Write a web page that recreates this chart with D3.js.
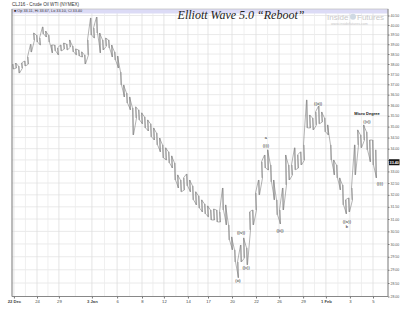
<!doctype html>
<html lang=en>
<head>
  <meta charset="utf-8">
  <title>CLJ16 Elliott Wave</title>
  <style>
body {
  margin: 0;
  background: #fff;
  overflow: hidden;
}
svg {
  display: block;
  font-family: "Liberation Sans", Arial, sans-serif;
}
  </style>
</head>
<body>
<div id=chart></div>

<script src="https://cdn.jsdelivr.net/npm/d3@7"></script>
<script>

// bar highs / lows (one bar per slot)
var highs = [38.00,38.05,37.90,38.05,38.15,38.35,39.00,39.58,39.47,39.32,
             39.90,39.68,39.47,38.96,38.96,38.81,38.96,39.06,39.01,39.22,
             38.91,38.76,38.71,38.61,38.46,39.22,40.37,39.84,40.42,39.58,
             39.22,39.32,39.22,38.96,38.61,38.40,37.60,36.97,36.58,36.39,
             35.87,35.92,35.78,35.64,35.45,35.31,35.13,34.94,34.71,34.48,
             34.17,34.04,33.86,33.68,33.37,32.85,32.63,32.72,32.89,32.63,
             32.38,32.13,31.96,31.79,31.62,31.54,31.37,31.41,31.37,31.29,
             32.29,31.58,30.76,30.28,29.77,29.30,29.96,30.24,29.85,31.29,
             31.37,32.08,32.63,33.42,33.72,33.95,33.28,32.63,31.79,31.37,
             32.29,33.72,33.28,33.28,34.04,33.72,33.86,34.17,36.25,35.54,
             35.40,35.68,35.96,35.68,35.40,35.08,34.17,33.50,33.28,32.72,
             32.42,31.79,31.87,32.29,34.17,34.85,34.62,35.08,34.76,34.39,
             34.39,33.95];
var lows  = [37.75,37.80,37.55,37.80,37.90,38.00,38.60,39.22,39.11,38.96,
             39.53,39.37,39.11,38.56,38.66,38.46,38.66,38.76,38.71,38.86,
             38.61,38.46,38.40,38.35,38.00,38.46,39.47,39.32,39.58,38.56,
             38.71,38.91,38.81,38.35,38.20,37.80,36.97,36.39,36.10,35.78,
             34.62,35.40,35.31,35.13,34.94,34.80,34.53,34.39,34.17,33.86,
             33.59,33.50,33.37,33.15,32.63,32.29,32.13,32.21,32.38,32.13,
             31.79,31.58,31.45,31.29,31.21,31.09,30.96,30.96,30.88,30.88,
             31.37,30.76,30.16,29.77,29.30,28.70,29.30,29.46,29.19,30.56,
             30.76,31.37,32.00,32.72,33.15,33.06,32.55,31.79,31.17,30.80,
             31.37,32.42,32.63,32.85,33.07,33.15,33.28,33.50,34.94,34.94,
             34.85,35.08,35.13,35.22,34.76,34.62,33.50,32.85,32.72,32.21,
             31.58,31.21,31.29,31.79,32.85,34.17,34.04,34.39,33.95,33.42,
             33.28,32.72];
var lastPrice = 33.40;

var priceTicks = [28.0,28.5,29.0,29.5,30.0,30.5,31.0,31.5,32.0,32.5,33.0,33.5,
                  34.0,34.5,35.0,35.5,36.0,36.5,37.0,37.5,38.0,38.5,39.0,39.5,40.0,40.5];

var dateLabels = ["22 Dec","24","29","3 Jan","6","8","12","14","17","20","22","26","29","1 Feb","3","5"];
var dateIdx    = [0.3, 8, 15.3, 26.3, 34.7, 43, 50.3, 58.3, 65, 73, 81, 88.7, 96.7, 104.3, 112.3, 120];
var boldLabels = ["22 Dec","3 Jan","1 Feb"];

// elliott wave annotations: bar slot, price
var waveText  = ["(iii)","((v))","((iv))","a","((i))","((ii))","((iii))","((iv))","b","Micro Degree","((v))","((i))"];
var waveIdx   = [75, 77.7, 76, 84.3, 84.3, 89, 101.7, 111.3, 111.3, 118, 118, 122.3];
var wavePrice = [28.6, 29.1, 30.45, 34.5, 34.15, 30.55, 36.1, 30.9, 30.68, 35.6, 35.25, 32.5];

var W = 400, H = 313;
// plot box: left, right, top, bottom
var L = 12, R = 388, T = 9, B = 296.5;

var svg = d3.select("#chart").append("svg")
  .attr("width", W)
  .attr("height", H);

var x = d3.scaleLinear()
  .domain([0, highs.length - 1])
  .range([13, 376]);

var y = d3.scaleLog()
  .domain([28, 40.5])
  .range([B, 15.5]);

// grid
var grid = svg.append("g");
grid.selectAll("line.h")
  .data(priceTicks)
  .enter().append("line")
  .attr("x1", L).attr("x2", R)
  .attr("y1", d => y(d)).attr("y2", d => y(d))
  .attr("stroke", "#e4e4e4")
  .attr("stroke-width", 0.8);

var minor = dateIdx.slice(1).map((d, i) => (d + dateIdx[i]) / 2);
grid.selectAll("line.vm")
  .data(minor)
  .enter().append("line")
  .attr("x1", d => x(d)).attr("x2", d => x(d))
  .attr("y1", T + 4).attr("y2", B)
  .attr("stroke", "#ececec")
  .attr("stroke-width", 0.8);
grid.selectAll("line.v")
  .data(dateIdx)
  .enter().append("line")
  .attr("x1", d => x(d)).attr("x2", d => x(d))
  .attr("y1", T + 4).attr("y2", B)
  .attr("stroke", "#dedede")
  .attr("stroke-width", 0.8);

// header strip
svg.append("rect")
  .attr("x", L).attr("y", T)
  .attr("width", R - L).attr("height", 4.5)
  .attr("fill", "#dcdbf6");
svg.append("text")
  .attr("x", 14).attr("y", 12.4)
  .attr("font-size", 3.8)
  .attr("fill", "#333")
  .text("\u25A0 Op 33.11, Hi 33.67, Lo 33.10, Cl 33.40");

svg.append("text")
  .attr("x", L).attr("y", 5.5)
  .attr("font-size", 4.6)
  .attr("fill", "#333")
  .text("CLJ16 - Crude Oil WTI (NYMEX)");

// frame
svg.append("rect")
  .attr("x", L).attr("y", T)
  .attr("width", R - L).attr("height", B - T)
  .attr("fill", "none")
  .attr("stroke", "#bdbdbd")
  .attr("stroke-width", 0.7);
svg.append("line")
  .attr("x1", L).attr("x2", L).attr("y1", T).attr("y2", B)
  .attr("stroke", "#777").attr("stroke-width", 0.8);

// title + watermark
svg.append("text")
  .attr("x", 241).attr("y", 19)
  .attr("text-anchor", "middle")
  .attr("font-family", "'Liberation Serif', serif")
  .attr("font-style", "italic")
  .attr("font-size", 12)
  .attr("fill", "#222")
  .text("Elliott Wave 5.0 \u201CReboot\u201D");

var wm = svg.append("g").attr("fill", "#c9c9c9");
wm.append("text").attr("x", 327).attr("y", 19.5).attr("font-size", 8).text("Inside");
wm.append("circle").attr("cx", 353).attr("cy", 16.8).attr("r", 3).attr("fill", "#cfd9e3");
wm.append("text").attr("x", 357).attr("y", 19.5).attr("font-size", 8).text("Futures");
wm.append("text").attr("x", 331).attr("y", 24.5).attr("font-size", 3.6).text("www.insidefutures.com");

// price bars
var bars = svg.append("g");
bars.selectAll("line")
  .data(highs)
  .enter().append("line")
  .attr("x1", (d, i) => x(i)).attr("x2", (d, i) => x(i))
  .attr("y1", d => y(d))
  .attr("y2", (d, i) => y(lows[i]))
  .attr("stroke", "#999")
  .attr("stroke-width", 0.9);

// zigzag through each bar's high and low so the trace reads as one jagged line
var pts = [];
highs.forEach(function(h, i) {
  var a = [x(i) - 0.5, y(h)], b = [x(i) + 0.5, y(lows[i])];
  if (i % 2) pts.push(b, a); else pts.push(a, b);
});
bars.append("path")
  .attr("d", d3.line()(pts))
  .attr("fill", "none")
  .attr("stroke", "#808080")
  .attr("stroke-width", 0.6);

// axes
var yAxis = d3.axisRight(y)
  .tickValues(priceTicks)
  .tickFormat(d3.format(".2f"))
  .tickSize(1.5)
  .tickPadding(1);
var gy = svg.append("g")
  .attr("transform", "translate(" + R + ",0)")
  .call(yAxis);
gy.select(".domain").remove();
gy.selectAll("text")
  .attr("font-size", 3.5)
  .attr("fill", "#555")
  .attr("display", d => Math.abs(d - lastPrice) < 0.25 ? "none" : null);
gy.selectAll("line").attr("stroke", "#777");
svg.append("line")
  .attr("x1", R).attr("x2", R).attr("y1", T).attr("y2", B)
  .attr("stroke", "#777").attr("stroke-width", 0.8);

var xAxis = d3.axisBottom(x)
  .tickValues(dateIdx)
  .tickFormat((d, i) => dateLabels[i])
  .tickSize(2)
  .tickPadding(2);
var gx = svg.append("g")
  .attr("transform", "translate(0," + B + ")")
  .call(xAxis);
gx.select(".domain").remove();
gx.selectAll("text")
  .attr("font-size", 4.2)
  .attr("fill", "#444")
  .attr("font-weight", (d, i) => boldLabels.includes(dateLabels[i]) ? "bold" : null);
gx.selectAll("line").attr("stroke", "#777");
svg.append("line")
  .attr("x1", L).attr("x2", R).attr("y1", B).attr("y2", B)
  .attr("stroke", "#777").attr("stroke-width", 0.8);

// last price marker
svg.append("rect")
  .attr("x", R + 1).attr("y", y(lastPrice) - 3)
  .attr("width", 10.5).attr("height", 6)
  .attr("fill", "#111");
svg.append("text")
  .attr("x", R + 1.6).attr("y", y(lastPrice) + 1.4)
  .attr("font-size", 3.7)
  .attr("font-weight", "bold")
  .attr("fill", "#fff")
  .text(d3.format(".2f")(lastPrice));

// wave labels
svg.append("g").selectAll("text")
  .data(waveText)
  .enter().append("text")
  .attr("x", (d, i) => x(waveIdx[i]))
  .attr("y", (d, i) => y(wavePrice[i]) + 1.5)
  .attr("text-anchor", "middle")
  .attr("font-size", 4)
  .attr("font-weight", (d, i) => d == "Micro Degree" ? "bold" : null)
  .attr("fill", "#111")
  .text(d => d);

</script>
</body>
</html>
